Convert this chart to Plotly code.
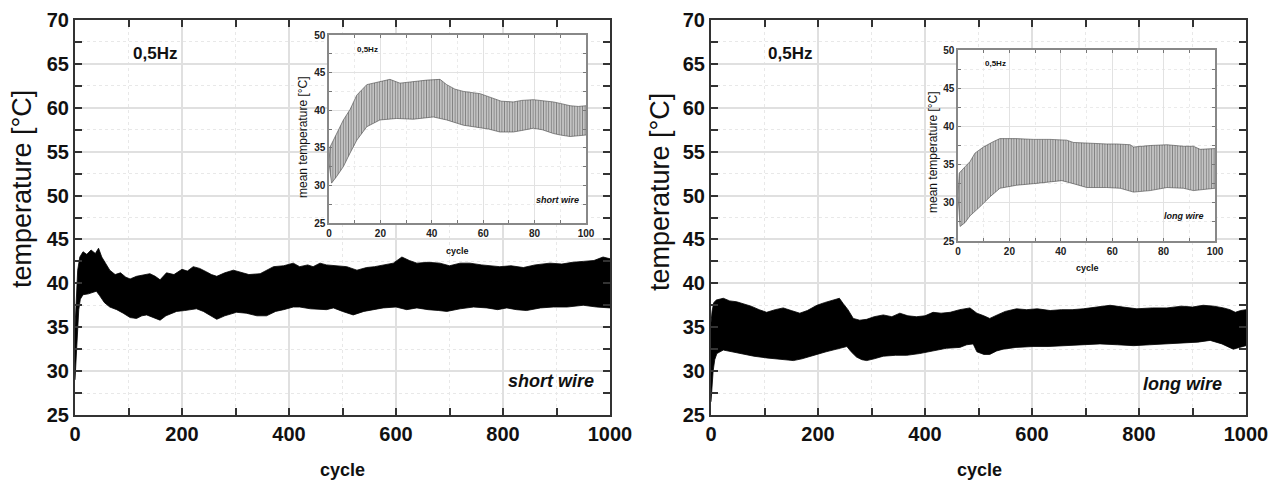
import plotly.graph_objects as go

# ---------------- data ----------------
# Left main panel (short wire): upper / lower envelope of the oscillating signal
short_up_x = [0, 2, 5, 9, 15, 22, 30, 38, 44, 50, 58, 65, 75, 85, 95, 103, 115, 128, 140, 150, 159, 171, 185, 200, 210, 221, 233, 246, 255, 265, 280, 296, 310, 325, 346, 360, 371, 390, 408, 420, 435, 445, 458, 470, 490, 508, 527, 545, 560, 576, 595, 611, 625, 639, 660, 682, 700, 720, 738, 760, 780, 794, 815, 838, 860, 888, 910, 930, 950, 970, 987, 1000]
short_up_y = [35.0, 38.5, 41.5, 43.0, 43.6, 43.3, 43.8, 43.4, 44.0, 43.0, 42.2, 41.5, 41.0, 41.2, 40.7, 40.5, 40.8, 41.0, 41.1, 40.8, 40.4, 41.2, 41.0, 41.6, 41.4, 41.9, 41.7, 41.3, 41.0, 40.8, 41.2, 41.5, 41.3, 41.0, 41.1, 41.6, 41.9, 42.0, 42.3, 41.9, 42.1, 41.9, 42.3, 42.1, 42.0, 41.9, 41.5, 41.8, 41.9, 42.1, 42.3, 43.0, 42.6, 42.3, 42.4, 42.3, 42.0, 42.3, 42.3, 42.1, 42.0, 41.9, 42.0, 41.8, 42.1, 42.3, 42.2, 42.4, 42.5, 42.6, 43.0, 42.8]
short_lo_x = [0, 2, 4, 7, 10, 15, 25, 33, 40, 46, 55, 65, 78, 90, 103, 115, 125, 134, 145, 159, 170, 190, 205, 227, 240, 252, 265, 280, 302, 320, 340, 358, 375, 390, 408, 420, 440, 470, 483, 500, 520, 540, 560, 576, 600, 620, 639, 660, 680, 695, 720, 745, 770, 790, 807, 825, 844, 870, 894, 920, 950, 975, 1000]
short_lo_y = [29.0, 31.5, 34.5, 37.0, 38.2, 38.7, 38.8, 39.0, 39.1, 38.6, 37.8, 37.3, 37.0, 36.6, 36.1, 36.0, 36.3, 36.4, 36.1, 35.8, 36.3, 36.8, 36.9, 37.1, 36.8, 36.4, 35.9, 36.3, 36.7, 36.6, 36.3, 36.3, 36.8, 37.0, 37.3, 37.3, 37.1, 37.0, 37.2, 36.8, 36.4, 36.8, 37.0, 37.2, 37.3, 37.0, 37.2, 37.0, 36.9, 36.8, 37.1, 37.3, 37.2, 37.0, 37.2, 37.0, 36.9, 37.2, 37.3, 37.3, 37.5, 37.3, 37.2]

# Right main panel (long wire)
long_up_x = [0, 2, 5, 10, 23, 35, 48, 60, 75, 90, 104, 120, 135, 150, 166, 180, 198, 212, 229, 240, 247, 256, 266, 278, 291, 305, 322, 338, 353, 368, 384, 400, 415, 430, 447, 465, 484, 497, 510, 521, 535, 550, 571, 590, 610, 634, 655, 675, 696, 720, 746, 770, 796, 825, 852, 880, 900, 920, 940, 958, 970, 980, 990, 1000]
long_up_y = [35.5, 36.8, 37.8, 38.1, 38.3, 38.0, 37.9, 37.7, 37.4, 37.0, 36.7, 37.0, 37.2, 36.9, 36.6, 36.9, 37.5, 37.8, 38.1, 38.3, 37.7, 37.0, 36.0, 35.8, 35.9, 36.2, 36.4, 36.2, 36.6, 36.3, 36.2, 36.3, 36.7, 36.6, 36.7, 37.0, 37.2, 36.6, 36.3, 36.0, 36.4, 36.8, 37.1, 37.0, 37.1, 36.9, 37.0, 37.0, 37.1, 37.3, 37.5, 37.3, 37.1, 37.2, 37.2, 37.4, 37.3, 37.5, 37.4, 37.2, 37.0, 36.7, 36.9, 37.0]
long_lo_x = [0, 2, 4, 7, 11, 23, 40, 60, 80, 104, 125, 140, 154, 170, 185, 198, 215, 230, 241, 254, 262, 272, 282, 291, 305, 322, 345, 366, 390, 415, 440, 465, 478, 490, 497, 510, 521, 534, 546, 570, 602, 630, 665, 700, 727, 760, 790, 820, 852, 880, 910, 933, 955, 976, 990, 1000]
long_lo_y = [26.5, 28.5, 30.0, 31.3, 32.0, 32.4, 32.2, 31.9, 31.7, 31.5, 31.4, 31.3, 31.2, 31.4, 31.7, 31.9, 32.2, 32.4, 32.6, 32.8, 32.2, 31.6, 31.3, 31.2, 31.4, 31.7, 31.8, 31.8, 32.0, 32.3, 32.6, 32.7, 33.0, 33.1, 32.2, 31.9, 31.9, 32.3, 32.5, 32.7, 32.8, 32.8, 32.9, 33.0, 33.1, 33.0, 32.9, 33.0, 33.1, 33.2, 33.3, 33.5, 33.1, 32.5, 32.7, 32.9]

# Left inset (short wire, first 100 cycles)
ins_s_up_x = [0, 0.4, 1.7, 3.6, 5.6, 8.2, 10.8, 14.7, 17, 19.8, 23.7, 27.6, 32.8, 38, 43.2, 45.8, 49, 52.3, 58.8, 63.9, 67, 71.7, 75, 79.5, 83, 87.3, 90, 93.8, 97, 100]
ins_s_up_y = [33.0, 35.1, 36.0, 37.4, 38.7, 40.1, 42.0, 43.4, 43.6, 43.8, 44.1, 43.6, 43.8, 44.0, 44.1, 43.4, 42.8, 42.5, 42.2, 41.6, 41.2, 41.1, 41.3, 41.4, 41.3, 41.1, 40.9, 40.6, 40.5, 40.6]
ins_s_lo_x = [0, 1.0, 3, 5.6, 8.2, 10.8, 14.7, 19.8, 26.3, 32.8, 40.6, 45.8, 52.3, 58.8, 62, 66.5, 71.7, 75, 79.5, 83, 87.3, 90, 93.8, 97, 100]
ins_s_lo_y = [33.0, 30.3, 31.2, 32.5, 34.3, 36.0, 37.8, 38.7, 38.9, 38.8, 39.1, 38.7, 38.0, 37.6, 37.5, 37.1, 37.1, 37.3, 37.6, 37.4, 36.9, 36.7, 36.5, 36.6, 36.7]

# Right inset (long wire, first 100 cycles)
ins_l_up_x = [0, 0.5, 2.7, 4.7, 6.6, 9.9, 13.7, 16.3, 22.8, 29.3, 35.8, 42.3, 44.9, 50.1, 57.9, 61.8, 67, 68.3, 74.8, 81.3, 87.7, 91.6, 94.2, 100]
ins_l_up_y = [31.0, 33.9, 34.7, 35.4, 36.5, 37.3, 38.0, 38.4, 38.4, 38.3, 38.3, 38.2, 37.9, 37.8, 37.7, 37.7, 37.6, 37.3, 37.5, 37.6, 37.4, 37.4, 37.0, 37.1]
ins_l_lo_x = [0, 0.8, 2.7, 4.7, 8.6, 12.5, 16.3, 22.8, 29.3, 35.8, 40.4, 44.9, 50.1, 57.9, 63.1, 68.3, 74.8, 81.3, 87.7, 91.6, 100]
ins_l_lo_y = [31.0, 26.9, 27.4, 28.3, 29.5, 30.8, 31.9, 32.3, 32.5, 32.7, 32.9, 32.5, 32.0, 32.0, 31.9, 31.4, 31.6, 32.0, 31.9, 31.6, 31.9]

main_x_range = [0, 1000]
main_y_range = [25, 70]
inset_x_range = [0, 100]
inset_y_range = [25, 50]

# ---------------- layout helpers ----------------
W, H = 1282, 484
def fx(p):
    return p / W
def fy(p):
    return 1 - p / H

FONT = "Liberation Sans, Arial, sans-serif"

fig = go.Figure()

def band(xu, yu, xl, yl, xa, ya, pattern=False):
    lw = 0.6 if pattern else 0.8
    lc = "#444444" if pattern else "black"
    fig.add_trace(go.Scatter(x=xu, y=yu, mode="lines", line=dict(color=lc, width=lw),
                             xaxis=xa, yaxis=ya, showlegend=False, hoverinfo="skip"))
    kw = dict(fill="tonexty")
    if pattern:
        kw["fillcolor"] = "white"
        kw["fillpattern"] = dict(shape="|", fgcolor="#111111", bgcolor="#f4f4f4", size=2.6, solidity=0.62)
    else:
        kw["fillcolor"] = "black"
    fig.add_trace(go.Scatter(x=xl, y=yl, mode="lines", line=dict(color=lc, width=lw),
                             xaxis=xa, yaxis=ya, showlegend=False, hoverinfo="skip", **kw))

band(short_up_x, short_up_y, short_lo_x, short_lo_y, "x", "y")
band(ins_s_up_x, ins_s_up_y, ins_s_lo_x, ins_s_lo_y, "x2", "y2", pattern=True)
band(long_up_x, long_up_y, long_lo_x, long_lo_y, "x3", "y3")
band(ins_l_up_x, ins_l_up_y, ins_l_lo_x, ins_l_lo_y, "x4", "y4", pattern=True)

def main_axis(rng, dtick, minor, domain, anchor):
    return dict(range=rng, domain=domain, anchor=anchor, dtick=dtick, tick0=rng[0],
                ticks="inside", ticklen=7, tickwidth=1.5, tickcolor="#333333",
                showline=True, linecolor="#333333", linewidth=2, mirror="allticks",
                showgrid=True, gridcolor="#e0e0e0", gridwidth=1.5, zeroline=False,
                tickfont=dict(family=FONT, size=20, color="#111111", weight="bold"),
                minor=dict(dtick=minor, ticks="inside", ticklen=7, tickwidth=1.5, tickcolor="#333333",
                           showgrid=True, gridcolor="#e8e8e8", gridwidth=1, griddash="dot"),
                automargin=False, fixedrange=True)

def inset_axis(rng, dtick, minor, domain, anchor):
    return dict(range=rng, domain=domain, anchor=anchor, dtick=dtick, tick0=rng[0],
                ticks="inside", ticklen=3, tickwidth=1, tickcolor="#777777",
                showline=True, linecolor="#888888", linewidth=1.5, mirror="allticks",
                showgrid=True, gridcolor="#e2e2e2", gridwidth=1, zeroline=False,
                tickfont=dict(family=FONT, size=10, color="#222222", weight="bold"),
                minor=dict(dtick=minor, ticks="inside", ticklen=3, tickwidth=1, tickcolor="#777777",
                           showgrid=True, gridcolor="#ebebeb", gridwidth=1, griddash="dot"),
                automargin=False, fixedrange=True)

ymain_dom = [fy(415), fy(20)]
fig.update_layout(
    width=W, height=H, margin=dict(l=0, r=0, t=0, b=0),
    paper_bgcolor="white", plot_bgcolor="white", showlegend=False,
    xaxis=main_axis(main_x_range, 200, 100, [fx(75), fx(610)], "y"),
    yaxis=main_axis(main_y_range, 5, 2.5, ymain_dom, "x"),
    xaxis2=inset_axis(inset_x_range, 20, 10, [fx(329), fx(586)], "y2"),
    yaxis2=inset_axis(inset_y_range, 5, 2.5, [fy(223), fy(35)], "x2"),
    xaxis3=main_axis(main_x_range, 200, 100, [fx(711), fx(1246)], "y3"),
    yaxis3=main_axis(main_y_range, 5, 2.5, ymain_dom, "x3"),
    xaxis4=inset_axis(inset_x_range, 20, 10, [fx(958), fx(1215)], "y4"),
    yaxis4=inset_axis(inset_y_range, 5, 2.5, [fy(241), fy(50)], "x4"),
)

def ann(text, x, y, size, bold=False, italic=False, angle=0, color="#111111"):
    t = text
    if italic:
        t = "<i>" + t + "</i>"
    fig.add_annotation(text=t, x=fx(x), y=fy(y), xref="paper", yref="paper",
                       xanchor="center", yanchor="middle", showarrow=False, textangle=angle,
                       font=dict(family=FONT, size=size, color=color, weight="bold" if bold else "normal"))

# main panel titles
ann("temperature [°C]", 22, 189, 27, angle=-90)
ann("temperature [°C]", 660, 192, 27, angle=-90)
ann("cycle", 342, 470, 18, bold=True)
ann("cycle", 979, 470, 18, bold=True)
ann("0,5Hz", 155, 53, 17, bold=True)
ann("0,5Hz", 790, 53, 17, bold=True)
ann("short wire", 551, 381, 18, bold=True, italic=True)
ann("long wire", 1182, 384, 18, bold=True, italic=True)

# inset titles
ann("mean temperature [°C]", 303, 137, 12, angle=-90)
ann("mean temperature [°C]", 933, 152, 12, angle=-90)
ann("cycle", 457, 251, 9, bold=True)
ann("cycle", 1087, 268, 9, bold=True)
ann("0,5Hz", 367, 49, 8, bold=True)
ann("0,5Hz", 995, 63, 8, bold=True)
ann("short wire", 557, 200, 9, bold=True, italic=True)
ann("long wire", 1184, 216, 9, bold=True, italic=True)

fig.write_html("out.html", config={"displayModeBar": False})
